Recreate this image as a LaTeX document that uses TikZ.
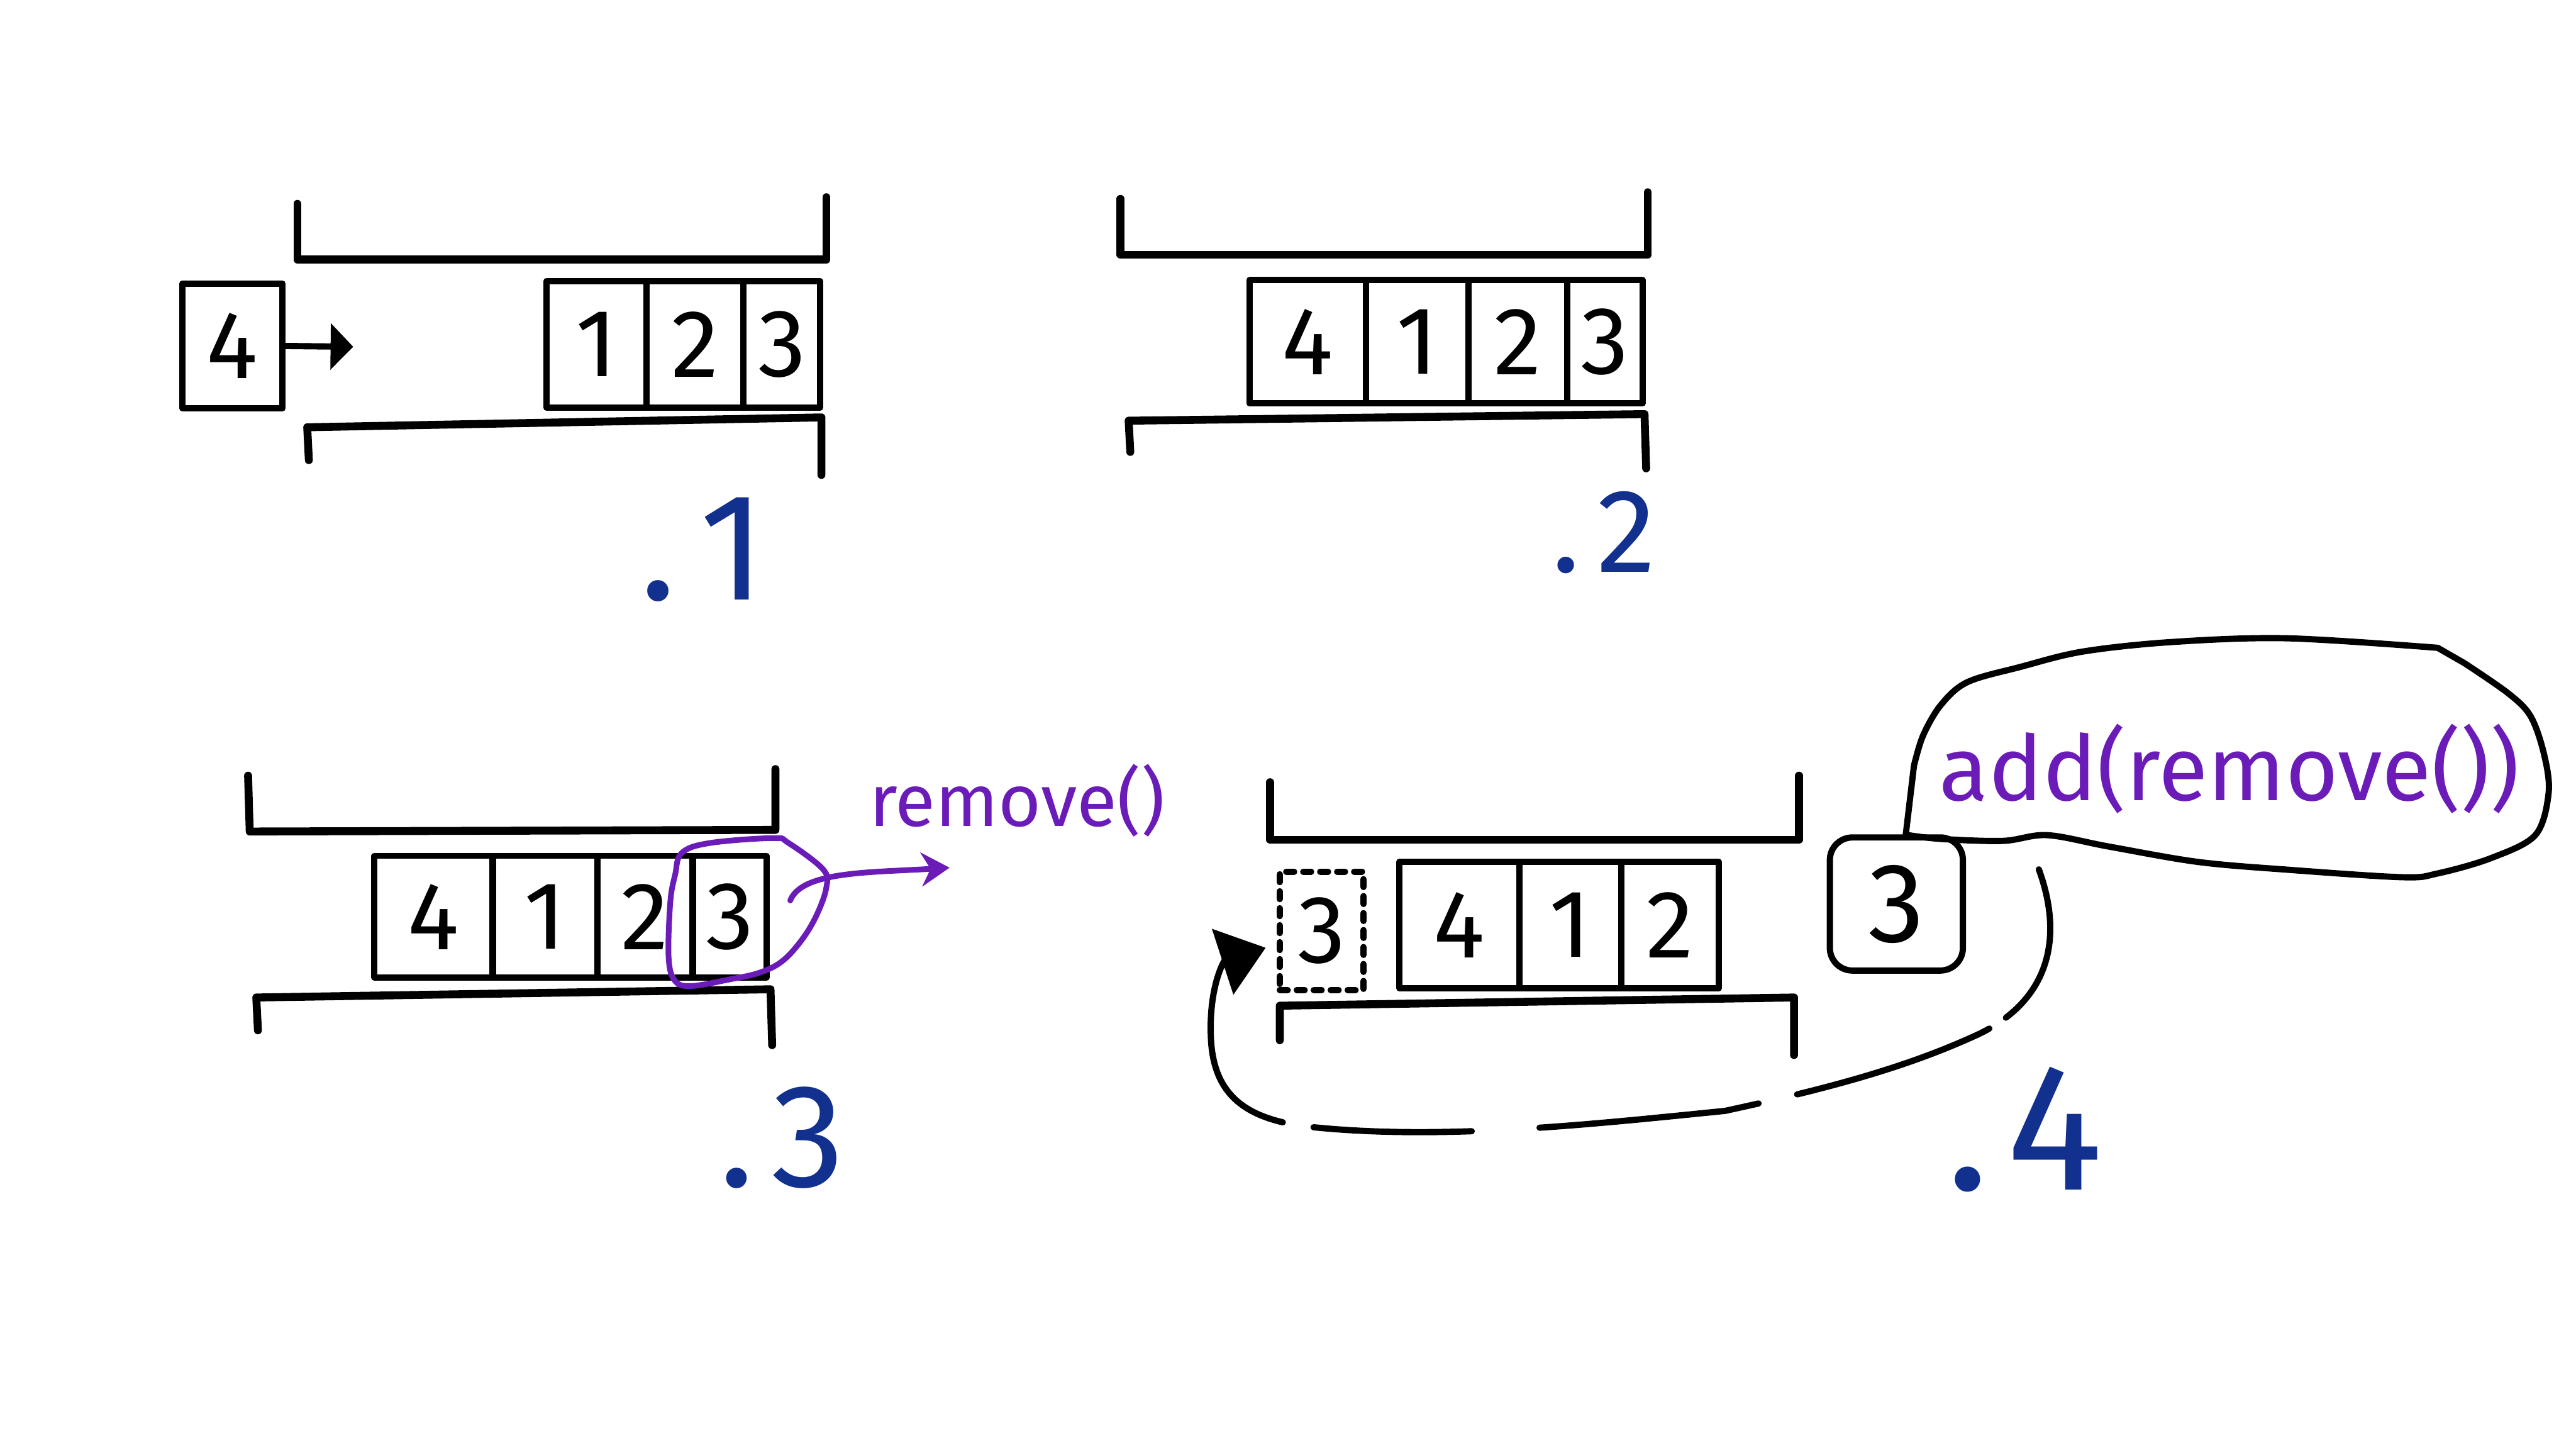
\documentclass[tikz,border=0pt]{standalone}
\usepackage{fontspec}
\setmainfont{Fira Sans}
\usetikzlibrary{arrows.meta,calc}
\newlength\pxu
\setlength\pxu{0.010204cm}
\definecolor{lblblue}{HTML}{12318F}
\definecolor{mkpurple}{HTML}{6A1BB8}
\begin{document}
\begin{tikzpicture}[x=0.010204cm,y=-0.010204cm,
  ink/.style={line width=1.1pt, line cap=round, line join=round},
  tray/.style={line width=1.4pt, line cap=round, line join=round},
  cell/.style 2 args={draw, ink, inner sep=0pt, outer sep=0pt,
    minimum width=#1*\pxu, minimum height=#2*\pxu,
    font=\fontsize{17}{17}\selectfont},
  ghost/.style 2 args={cell={#1}{#2}, dash pattern=on 1.4pt off 1.6pt},
  steplabel/.style={text=lblblue, inner sep=0pt, anchor=base west},
  marker/.style={mkpurple, line width=1pt, line cap=round, line join=round},
  markertext/.style={text=mkpurple, inner sep=0pt}
]
\path[use as bounding box] (0,0) rectangle (1568,882);

% ---------- panel 1 ----------
\draw[tray] (181,124) -- (181,158) -- (503,158) -- (503,120);
\draw[tray] (188,280) -- (187,260) -- (500,254) -- (500,289);
\node[cell={61}{76}] (p1n4) at (141.5,210.5) {4};
\coordinate (p1tip) at (215,211);
\draw[ink,-{Triangle[length=4pt,width=8pt]}] (p1n4.east) -- (p1tip);
\node[cell={61}{77}] (p1c1) at (363,209.5) {1};
\node[cell={59}{77}] (p1c2) at (423,209.5) {2};
\node[cell={46.5}{77}] (p1c3) at (475.9,209.5) {3};
\node[steplabel, font=\fontsize{27}{27}\selectfont] (lab1) at (389,365) {.\hspace{4pt}1};

% ---------- panel 2 ----------
\draw[tray] (682,121) -- (682,155) -- (1003,155) -- (1003,117);
\draw[tray] (688,275) -- (687,256) -- (1001,252) -- (1002,285);
\node[cell={71}{75}] (p2c4) at (796,208) {4};
\node[cell={62.5}{75}] (p2c1) at (862.7,208) {1};
\node[cell={59.8}{75}] (p2c2) at (923.9,208) {2};
\node[cell={46}{75}] (p2c3) at (976.9,208) {3};
\node[steplabel, font=\fontsize{21}{21}\selectfont] (lab2) at (944,348) {.\hspace{3pt}2};

% ---------- panel 3 ----------
\draw[tray] (151,472) -- (152,506) -- (472,505) -- (472,468);
\draw[tray] (157,627) -- (156,607) -- (469,602) -- (470,636);
\node[cell={72}{74}] (p3c4) at (263.9,557.8) {4};
\node[cell={63.5}{74}] (p3c1) at (331.8,557.8) {1};
\node[cell={58}{74}] (p3c2) at (392.6,557.8) {2};
\node[cell={45}{74}] (p3c3) at (444.2,557.8) {3};
\draw[marker] plot[smooth cycle, tension=0.6] coordinates {
  (415,519) (432,513) (470.6,510) (480,513) (501,529) (503,540)
  (497,557) (488,572) (476,585) (462,592) (444,596) (421,600)
  (411,597) (407,583) (408,549) (411,532)};
\coordinate (rmfrom) at (481,548);
\coordinate (rmto) at (578,528);
\draw[marker,-{Stealth[length=5pt,width=6pt]}] (rmfrom) .. controls (488,530) and (530,531) .. (rmto);
\node[markertext, font=\fontsize{13}{13}\selectfont] (rmtxt) at (619,487) {remove()};
\node[steplabel, font=\fontsize{26}{26}\selectfont] (lab3) at (437,722) {.\hspace{3pt}3};

% ---------- panel 4 ----------
\draw[tray] (773,476) -- (773,511) -- (1095,511) -- (1095,472);
\draw[tray] (779,633) -- (779,612) -- (1092,607) -- (1092,642);
\node[ghost={51}{72}] (p4g3) at (804.5,566.4) {3};
\node[cell={73}{77}] (p4c4) at (888.3,562.9) {4};
\node[cell={62}{77}] (p4c1) at (955.8,562.9) {1};
\node[cell={59.4}{77}] (p4c2) at (1016.5,562.9) {2};
\node[cell={81}{81}, rounded corners=4pt, font=\fontsize{20}{20}\selectfont] (p4b3) at (1154.3,550.1) {3};
% speech bubble
\draw[ink] (1160,508) -- plot[smooth, tension=0.55] coordinates {
  (1165,466) (1170.5,447.7) (1181.3,429.1) (1197.5,415.1) (1229.9,405.8)
  (1267.7,396.5) (1321.7,390.7) (1391.9,388.4) (1483.8,394.2)}
  -- (1500,403.5) -- plot[smooth, tension=0.55] coordinates {
  (1500,403.5) (1527,422.1) (1540.5,436.1) (1548.6,459.3) (1551.3,482.6)
  (1543.2,508.2) (1516.2,522.2) (1483.8,531.5) (1462.2,533.8) (1391.9,529.2)
  (1337.9,524.5) (1283.9,515.2) (1246.1,508.2) (1219.1,511.7) (1181.3,510.5)
  (1160,508)};
\node[markertext, font=\fontsize{16}{16}\selectfont] (addtxt) at (1357,468) {add(remove())};
% dashed return loop
\coordinate (loopstart) at (1241,529);
\draw[ink, dash pattern=on 29pt off 3.5pt on 36pt off 7pt on 39pt off 12pt on 28pt off 5.5pt on 80pt,
  -{Triangle[length=8pt,width=12pt]}]
  (loopstart) .. controls (1256,570) and (1248,608) .. (1205,629)
  .. controls (1160,650) and (1110,663) .. (1050,676)
  .. controls (970,684) and (880,694) .. (800,686)
  .. controls (760,682) and (738,668) .. (737,630)
  .. controls (736,600) and (745,585) .. ([yshift=-3pt, xshift=-2.5pt]p4g3.west);
\node[steplabel, font=\fontsize{32}{32}\selectfont] (lab4) at (1184,724) {.\hspace{3pt}4};
\end{tikzpicture}
\end{document}
